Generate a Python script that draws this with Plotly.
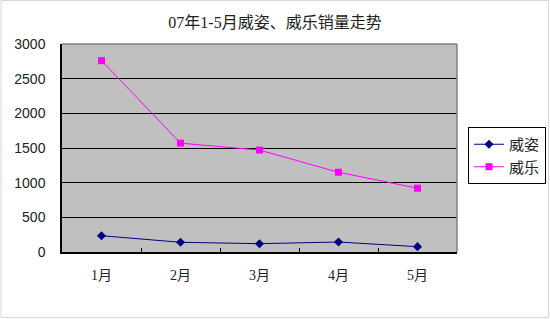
import plotly.graph_objects as go

months = ["1月", "2月", "3月", "4月", "5月"]
weizi = [235, 140, 120, 144, 77]
weile = [2760, 1570, 1470, 1150, 920]
series_names = ["威姿", "威乐"]
title_text = "07年1-5月威姿、威乐销量走势"

W, H = 550, 319
L, R, T, B = 62, 457, 44, 252


def px_x(p):
    return (p - L) / (R - L)


def px_y(p):
    return (B - p) / (B - T)


fig = go.Figure()
fig.add_trace(go.Scatter(
    x=months, y=weizi, name=series_names[0], mode="lines+markers",
    line=dict(color="#000080", width=1),
    marker=dict(symbol="diamond", size=7, color="#000080"),
))
fig.add_trace(go.Scatter(
    x=months, y=weile, name=series_names[1], mode="lines+markers",
    line=dict(color="#FF00FF", width=1),
    marker=dict(symbol="square", size=7, color="#FF00FF"),
))

fig.update_layout(
    width=W, height=H,
    margin=dict(l=L, r=W - R, t=T, b=H - B, pad=0, autoexpand=False),
    paper_bgcolor="white",
    plot_bgcolor="#C0C0C0",
    title=dict(text=title_text, x=0.5, xanchor="center", y=1 - 22 / H, yanchor="middle",
               font=dict(family="Liberation Serif, Noto Sans CJK SC", size=16, color="#222222")),
    showlegend=True,
    legend=dict(
        x=px_x(468), y=px_y(127), xanchor="left", yanchor="top",
        bordercolor="black", borderwidth=1, bgcolor="white",
        font=dict(family="Noto Sans CJK SC", size=15, color="#222222"),
        itemwidth=30, tracegroupgap=0,
    ),
    font=dict(family="Liberation Sans", size=14, color="#222222"),
)

fig.update_xaxes(
    type="category", range=[-0.5, 4.5],
    showline=True, linecolor="black", linewidth=1.5,
    ticks="inside", ticklen=4, tickcolor="black", tickwidth=1,
    tickson="boundaries",
    showgrid=False,
    tickfont=dict(family="Liberation Serif, Noto Sans CJK SC", size=14, color="#222222"),
    ticklabelstandoff=9,
)
fig.update_yaxes(
    range=[0, 3000], dtick=500,
    showline=True, linecolor="black", linewidth=1.5,
    showgrid=True, gridcolor="black", gridwidth=1,
    zeroline=False,
    ticks="", ticklabelstandoff=12,
    tickfont=dict(family="Liberation Sans", size=14, color="#222222"),
)

# top and right border of plot area (gray)
fig.add_shape(type="line", xref="paper", yref="paper", x0=0, x1=1, y0=1, y1=1,
              line=dict(color="#808080", width=1.5))
fig.add_shape(type="line", xref="paper", yref="paper", x0=1, x1=1, y0=0, y1=1,
              line=dict(color="#808080", width=1.5))
# outer light border
fig.add_shape(type="rect", xref="paper", yref="paper",
              x0=px_x(1), x1=px_x(548.5), y0=px_y(317.5), y1=px_y(0.5),
              line=dict(color="#D8D8D8", width=1), layer="below")

fig.write_html("out.html")
